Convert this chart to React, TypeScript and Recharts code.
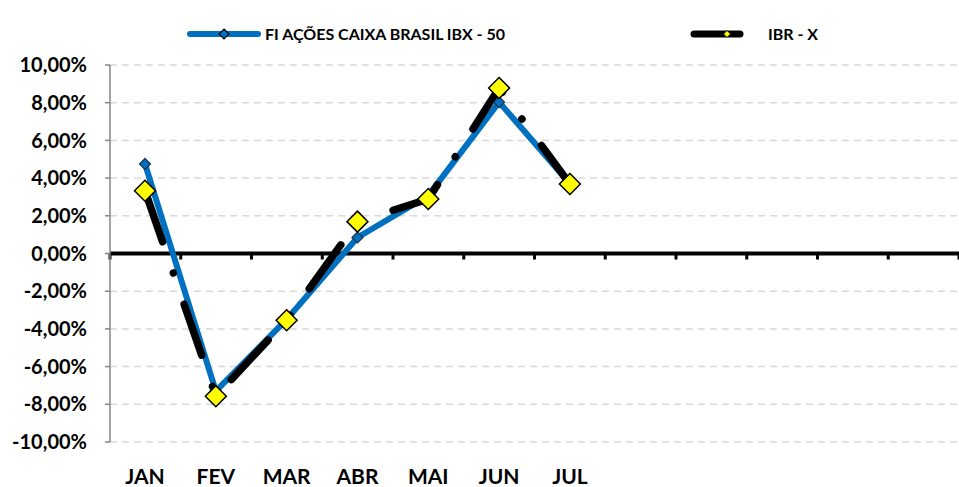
import React from 'react';
import { LineChart, Line, XAxis, YAxis, CartesianGrid, ReferenceLine } from 'recharts';

// monthly returns (%), only JAN..JUL published
const months = ['JAN', 'FEV', 'MAR', 'ABR', 'MAI', 'JUN', 'JUL', '', '', '', '', ''];
const fundReturns = [4.75, -7.3, -3.5, 0.85, 3.07, 8.03, 3.7, null, null, null, null, null];
const ibrxReturns = [3.33, -7.57, -3.54, 1.69, 2.89, 8.78, 3.69, null, null, null, null, null];
const yTicks = [-10, -8, -6, -4, -2, 0, 2, 4, 6, 8, 10];
const seriesNames = ['FI AÇÕES CAIXA BRASIL IBX - 50', 'IBR - X'];

const BLUE = '#0070C0';
const FONT = 'Lato, "Open Sans", sans-serif';

const data = months.map((m, i) => ({ month: m, fund: fundReturns[i], ibrx: ibrxReturns[i] }));

const pct = (v: number) => v.toFixed(2).replace('.', ',') + '%';

function diamond(cx: number, cy: number, r: number) {
  return `M${cx},${cy - r} L${cx + r},${cy} L${cx},${cy + r} L${cx - r},${cy} Z`;
}

const blueDot = (p: any) => {
  if (p.cy == null || p.value == null) return <g key={p.index} />;
  return <path key={p.index} d={diamond(p.cx, p.cy, 5.5)} fill={BLUE} stroke="#1f3050" strokeWidth={1.2} />;
};

const yellowDot = (p: any) => {
  if (p.cy == null || p.value == null) return <g key={p.index} />;
  return <path key={p.index} d={diamond(p.cx, p.cy, 10.5)} fill="#FFFF00" stroke="#000" strokeWidth={1.5} />;
};

// thick zero line with category boundary ticks
const ZeroAxis = (p: any) => {
  const { x1, x2, y1 } = p;
  const step = (x2 - x1) / months.length;
  return (
    <g>
      <line x1={x1} x2={x2} y1={y1} y2={y1} stroke="#000" strokeWidth={4} />
      {months.concat(['']).map((_, i) => (
        <rect key={i} x={x1 + i * step - 1.5} y={y1} width={3} height={6} fill="#000" />
      ))}
    </g>
  );
};

const MonthTick = (p: any) => (
  <text x={p.x} y={p.y} dy={40} textAnchor="middle" fontFamily={FONT} fontWeight={700} fontSize={21} fill="#000">
    {p.payload.value}
  </text>
);

const Legend = () => (
  <svg width={959} height={60} style={{ position: 'absolute', left: 0, top: 0 }}>
    <line x1={190} x2={258} y1={34} y2={34} stroke={BLUE} strokeWidth={6} strokeLinecap="round" />
    <path d={diamond(224, 34, 5)} fill={BLUE} stroke="#000" strokeWidth={1.2} />
    <text x={265} y={39.5} fontFamily={FONT} fontWeight={700} fontSize={16} fill="#000">{seriesNames[0]}</text>
    <line x1={694} x2={740} y1={34} y2={34} stroke="#000" strokeWidth={7} strokeLinecap="round" />
    <path d={diamond(727, 34, 3.5)} fill="#FFFF00" stroke="#000" strokeWidth={0.8} />
    <text x={768} y={39.5} fontFamily={FONT} fontWeight={700} fontSize={16} fill="#000">{seriesNames[1]}</text>
  </svg>
);

export default function App() {
  return (
    <div style={{ position: 'absolute', left: 0, top: 0, width: 959, height: 487, overflow: 'hidden', background: '#fff', fontFamily: FONT }}>
      <LineChart width={959} height={487} data={data} margin={{ top: 65, right: 0, left: 0, bottom: 0 }}>
        <CartesianGrid vertical={false} stroke="#d9d9d9" strokeWidth={1.5} strokeDasharray="7 5" />
        <XAxis
          dataKey="month"
          padding={{ left: 35, right: 35 }}
          axisLine={false}
          tickLine={false}
          tickSize={0}
          height={45}
          interval={0}
          tick={<MonthTick />}
        />
        <YAxis
          domain={[-10, 10]}
          ticks={yTicks}
          width={110}
          tickSize={5}
          tickMargin={18}
          tickFormatter={pct}
          axisLine={{ stroke: '#868686', strokeWidth: 1.5 }}
          tickLine={{ stroke: '#868686', strokeWidth: 1.5 }}
          tick={{ fontFamily: FONT, fontWeight: 700, fontSize: 20, fill: '#000' }}
        />
        <ReferenceLine y={0} shape={<ZeroAxis />} />
        <Line
          dataKey="fund"
          name={seriesNames[0]}
          stroke={BLUE}
          strokeWidth={6}
          dot={false}
          activeDot={false}
          isAnimationActive={false}
        />
        <Line
          dataKey="ibrx"
          name={seriesNames[1]}
          stroke="#000"
          strokeWidth={7.5}
          strokeLinecap="round"
          strokeDasharray="54 33 0.1 32.9"
          dot={false}
          activeDot={false}
          isAnimationActive={false}
        />
        <Line
          dataKey="fund"
          stroke="none"
          legendType="none"
          dot={blueDot}
          activeDot={false}
          isAnimationActive={false}
        />
        <Line
          dataKey="ibrx"
          stroke="none"
          legendType="none"
          dot={yellowDot}
          activeDot={false}
          isAnimationActive={false}
        />
      </LineChart>
      <Legend />
    </div>
  );
}
